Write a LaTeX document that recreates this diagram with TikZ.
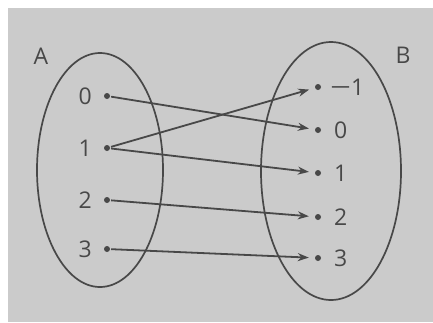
\documentclass[tikz,border=0pt]{standalone}
\usepackage{fontspec}
\setmainfont{Open Sans}
\usetikzlibrary{arrows.meta,positioning}
\definecolor{bg}{HTML}{CBCBCB}
\definecolor{ink}{HTML}{484848}
\tikzset{
  setline/.style={draw=ink, line width=1.7pt},
  lbl/.style={text=ink, font=\fontsize{23}{23}\selectfont, inner sep=0pt},
  pt/.style={circle, fill=ink, inner sep=0pt, minimum size=6pt},
  map/.style={draw=ink, line width=1.8pt, -{Stealth[length=11pt,width=8pt]}, shorten >=6pt, shorten <=1pt},
}
\begin{document}
\begin{tikzpicture}[x=1pt,y=-1pt]
\useasboundingbox (0,0) rectangle (433,322);
\fill[white] (0,0) rectangle (433,322);
\fill[bg] (8,8) rectangle (433,322);
% sets
\draw[setline] (100,170) ellipse [x radius=63, y radius=117];
\draw[setline] (331,171) ellipse [x radius=70, y radius=129];
\node[lbl] (A) at (41,56) {A};
\node[lbl] (B) at (403,55) {B};
% domain
\node[pt] (a0) at (107,96) {};
\node[pt] (a1) at (107,148) {};
\node[pt] (a2) at (107,200) {};
\node[pt] (a3) at (107,249) {};
\node[lbl, left=15pt of a0.center] (la0) {0};
\node[lbl, left=15pt of a1.center] (la1) {1};
\node[lbl, left=15pt of a2.center] (la2) {2};
\node[lbl, left=15pt of a3.center] (la3) {3};
% codomain
\node[pt] (bm) at (318,87) {};
\node[pt] (b0) at (318,130) {};
\node[pt] (b1) at (318,173) {};
\node[pt] (b2) at (318,217) {};
\node[pt] (b3) at (318,258) {};
\node[lbl, right=12pt of bm.center] (lbm) {\scalebox{1.6}[1]{−}1};
\node[lbl, right=16pt of b0.center] (lb0) {0};
\node[lbl, right=16pt of b1.center] (lb1) {1};
\node[lbl, right=16pt of b2.center] (lb2) {2};
\node[lbl, right=16pt of b3.center] (lb3) {3};
% mapping
\draw[map] (a0) -- (b0);
\draw[map] (a1) -- (bm);
\draw[map] (a1) -- (b1);
\draw[map] (a2) -- (b2);
\draw[map] (a3) -- (b3);
\end{tikzpicture}
\end{document}
